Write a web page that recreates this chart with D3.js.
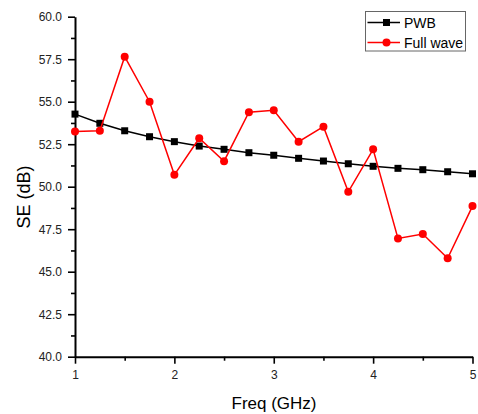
<!DOCTYPE html>
<html>
<head>
<meta charset="utf-8">
<script src="https://cdn.jsdelivr.net/npm/d3@7"></script>
<style>
  html, body { margin: 0; padding: 0; background: #fff; }
  svg { display: block; font-family: "Liberation Sans", Arial, sans-serif; }
</style>
</head>
<body>
<svg id="chart" width="478" height="414"></svg>
<script>
// Frequency points (GHz)
const freq = [1, 1.25, 1.5, 1.75, 2, 2.25, 2.5, 2.75, 3, 3.25, 3.5, 3.75, 4, 4.25, 4.5, 4.75, 5];
// Shielding effectiveness (dB)
const pwb = [54.27, 53.73, 53.29, 52.94, 52.65, 52.39, 52.2, 52.0, 51.85, 51.67, 51.51, 51.35, 51.2, 51.08, 51.0, 50.88, 50.76];
const fullWave = [53.24, 53.29, 57.65, 55.0, 50.7, 52.85, 51.5, 54.38, 54.49, 52.65, 53.53, 49.7, 52.2, 46.96, 47.22, 45.79, 48.86];
// Axis ticks
const xMajor = [1, 2, 3, 4, 5];
const xMinor = [1.5, 2.5, 3.5, 4.5];
const yMajor = [40, 42.5, 45, 47.5, 50, 52.5, 55, 57.5, 60];
const yMinor = [41.25, 43.75, 46.25, 48.75, 51.25, 53.75, 56.25, 58.75];
const seriesNames = ["PWB", "Full wave"];

const svg = d3.select("#chart");
const x = d3.scaleLinear().domain([1, 5]).range([75, 472.5]);
const y = d3.scaleLinear().domain([40, 60]).range([356.7, 16.7]);

const tickColor = "#222";

// Minor ticks (no labels)
svg.append("g")
  .attr("transform", `translate(0,${y(40)})`)
  .call(d3.axisBottom(x).tickValues(xMinor).tickSize(4).tickSizeOuter(0).tickFormat(""))
  .call(g => g.select(".domain").remove())
  .call(g => g.selectAll("line").attr("stroke", "#000").attr("stroke-width", 1.6));
svg.append("g")
  .attr("transform", `translate(${x(1)},0)`)
  .call(d3.axisLeft(y).tickValues(yMinor).tickSize(4).tickSizeOuter(0).tickFormat(""))
  .call(g => g.select(".domain").remove())
  .call(g => g.selectAll("line").attr("stroke", "#000").attr("stroke-width", 1.6));

// Major axes
const xAxis = svg.append("g")
  .attr("transform", `translate(0,${y(40)})`)
  .call(d3.axisBottom(x).tickValues(xMajor).tickSize(7).tickSizeOuter(0).tickPadding(7).tickFormat(d3.format("d")));
const yAxis = svg.append("g")
  .attr("transform", `translate(${x(1)},0)`)
  .call(d3.axisLeft(y).tickValues(yMajor).tickSize(7).tickSizeOuter(0).tickPadding(6).tickFormat(d3.format(".1f")));

[xAxis, yAxis].forEach(g => {
  g.select(".domain").attr("stroke", "#000").attr("stroke-width", 2);
  g.selectAll(".tick line").attr("stroke", "#000").attr("stroke-width", 1.6);
  g.selectAll(".tick text")
    .attr("fill", tickColor)
    .style("font-family", "'Liberation Sans', Arial, sans-serif")
    .style("font-size", "12px");
});

// Axis titles
svg.append("text")
  .attr("x", 274).attr("y", 409)
  .attr("text-anchor", "middle")
  .attr("fill", "#000")
  .style("font-size", "17px")
  .text("Freq (GHz)");
svg.append("text")
  .attr("transform", `translate(30,197) rotate(-90)`)
  .attr("text-anchor", "middle")
  .attr("fill", "#000")
  .style("font-size", "18px")
  .text("SE (dB)");

// Series
const line = d3.line().x((d, i) => x(freq[i])).y(d => y(d));

svg.append("path")
  .datum(pwb)
  .attr("d", line)
  .attr("fill", "none")
  .attr("stroke", "#000")
  .attr("stroke-width", 1.5);
svg.append("g").selectAll("rect")
  .data(pwb)
  .join("rect")
  .attr("x", (d, i) => x(freq[i]) - 3.5)
  .attr("y", d => y(d) - 3.5)
  .attr("width", 7).attr("height", 7)
  .attr("fill", "#000");

svg.append("path")
  .datum(fullWave)
  .attr("d", line)
  .attr("fill", "none")
  .attr("stroke", "#ff0000")
  .attr("stroke-width", 1.5);
svg.append("g").selectAll("circle")
  .data(fullWave)
  .join("circle")
  .attr("cx", (d, i) => x(freq[i]))
  .attr("cy", d => y(d))
  .attr("r", 4)
  .attr("fill", "#ff0000");

// Legend
const legend = svg.append("g");
legend.append("rect")
  .attr("x", 365.5).attr("y", 11.5)
  .attr("width", 100).attr("height", 39.5)
  .attr("fill", "#fff")
  .attr("stroke", "#666")
  .attr("stroke-width", 1);
const legendColors = ["#000", "#ff0000"];
seriesNames.forEach((name, i) => {
  const cy = 22.5 + i * 20;
  legend.append("line")
    .attr("x1", 367.5).attr("x2", 400)
    .attr("y1", cy).attr("y2", cy)
    .attr("stroke", legendColors[i])
    .attr("stroke-width", 1.5);
  if (i === 0) {
    legend.append("rect")
      .attr("x", 386.5 - 3.5).attr("y", cy - 3.5)
      .attr("width", 7).attr("height", 7)
      .attr("fill", legendColors[i]);
  } else {
    legend.append("circle")
      .attr("cx", 386.5).attr("cy", cy).attr("r", 4)
      .attr("fill", legendColors[i]);
  }
  legend.append("text")
    .attr("x", 404).attr("y", cy)
    .attr("dy", "0.36em")
    .attr("fill", "#000")
    .style("font-size", "14px")
    .text(name);
});
</script>
</body>
</html>
